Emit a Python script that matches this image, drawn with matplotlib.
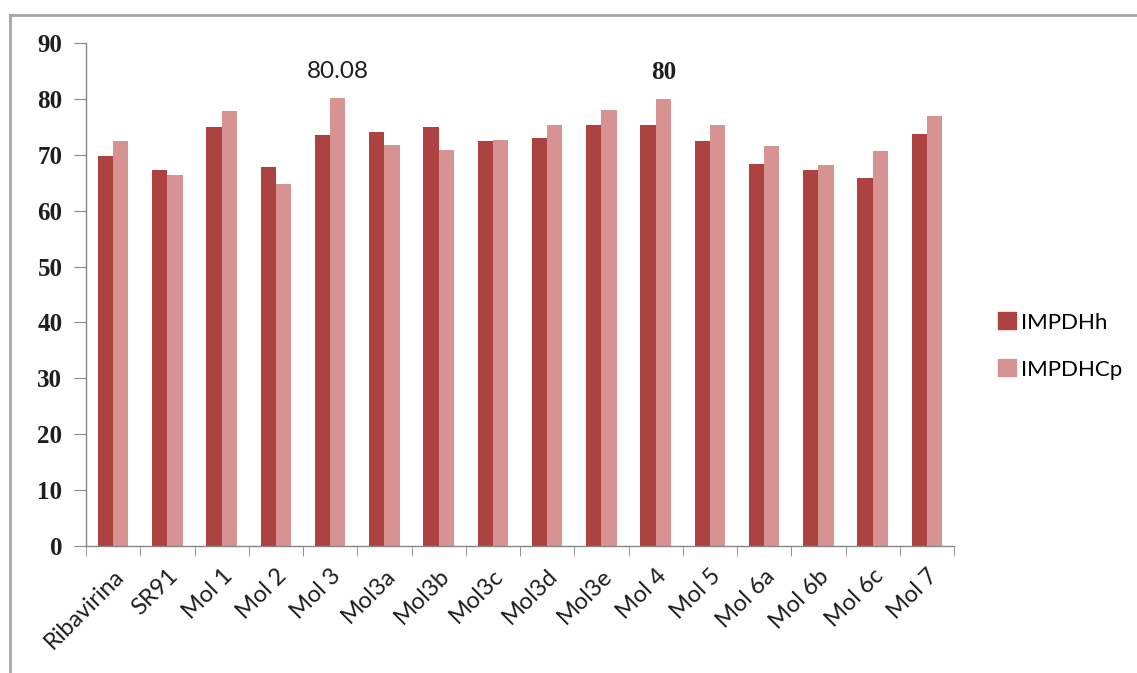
import matplotlib
matplotlib.use("Agg")
import matplotlib.pyplot as plt
import numpy as np
from matplotlib.lines import Line2D
from matplotlib.patches import Patch

# Inhibition values for each compound against the two enzyme isoforms
compounds = ["Ribavirina", "SR91", "Mol 1", "Mol 2", "Mol 3", "Mol3a", "Mol3b",
             "Mol3c", "Mol3d", "Mol3e", "Mol 4", "Mol 5", "Mol 6a", "Mol 6b",
             "Mol 6c", "Mol 7"]
impdh_h = [69.8, 67.2, 75.0, 67.8, 73.5, 74.1, 75.0, 72.4, 73.0, 75.3, 75.3,
           72.4, 68.4, 67.2, 65.8, 73.8]
impdh_cp = [72.4, 66.3, 77.9, 64.7, 80.08, 71.8, 70.9, 72.7, 75.3, 78.1, 80,
            75.3, 71.5, 68.1, 70.6, 77.0]
labelled = {4: "80.08", 10: "80"}

DARK = "#AD4341"
LIGHT = "#D69391"
AXIS_COL = "#868686"
TEXT_COL = "#1e1e1e"

fig = plt.figure(figsize=(11.37, 6.73), dpi=100, facecolor="white")
ax = fig.add_axes([86 / 1137, 1 - 546 / 673, (954 - 86) / 1137, (546 - 43) / 673])

x = np.arange(len(compounds))
w = 0.28
ax.bar(x - w / 2, impdh_h, width=w, color=DARK, label="IMPDHh")
ax.bar(x + w / 2, impdh_cp, width=w, color=LIGHT, label="IMPDHCp")

# Value labels over the two highest bars
ax.text(x[4] + w / 2, impdh_cp[4] + 4.8, labelled[4], ha="center", va="center",
        fontsize=17.5, family="Lato", color=TEXT_COL)
ax.text(x[10] + w / 2, impdh_cp[10] + 4.8, labelled[10], ha="center", va="center",
        fontsize=18, family="Liberation Serif", fontweight="bold", color=TEXT_COL)

ax.set_xlim(-0.5, len(compounds) - 0.5)
ax.set_ylim(0, 90)
ax.set_yticks(np.arange(0, 91, 10))
ax.tick_params(axis="y", direction="out", length=9, color=AXIS_COL, pad=8,
               labelsize=18)
for lbl in ax.get_yticklabels():
    lbl.set_family("Liberation Serif")
    lbl.set_fontweight("bold")
    lbl.set_color(TEXT_COL)

# category labels at bar centres, tick marks on the category boundaries
ax.set_xticks(x)
ax.set_xticklabels(compounds, rotation=45, ha="right", rotation_mode="anchor",
                   family="Lato", fontsize=17, color=TEXT_COL)
ax.tick_params(axis="x", which="major", length=0, pad=14)
ax.set_xticks(np.arange(-0.5, len(compounds)), minor=True)
ax.tick_params(axis="x", which="minor", direction="out", length=7, color=AXIS_COL)

for side in ["top", "right"]:
    ax.spines[side].set_visible(False)
for side in ["left", "bottom"]:
    ax.spines[side].set_color(AXIS_COL)
    ax.spines[side].set_linewidth(1.0)

handles = [Patch(color=DARK, label="IMPDHh"), Patch(color=LIGHT, label="IMPDHCp")]
fig.legend(handles=handles, loc="center left", bbox_to_anchor=(978 / 1137, 1 - 346 / 673),
           frameon=False, handlelength=0.8, handleheight=0.8,
           handletextpad=0.25, labelspacing=1.2, prop={"family": "Lato", "size": 16})

# outer chart border (only top and left edges fall inside the image)
fig.add_artist(Line2D([10 / 1137, 10 / 1137], [0, 1 - 15 / 673], color="#A6A6A6", lw=2))
fig.add_artist(Line2D([10 / 1137, 1], [1 - 15 / 673, 1 - 15 / 673], color="#A6A6A6", lw=2))

fig.savefig("out.png", dpi=100, facecolor="white")
